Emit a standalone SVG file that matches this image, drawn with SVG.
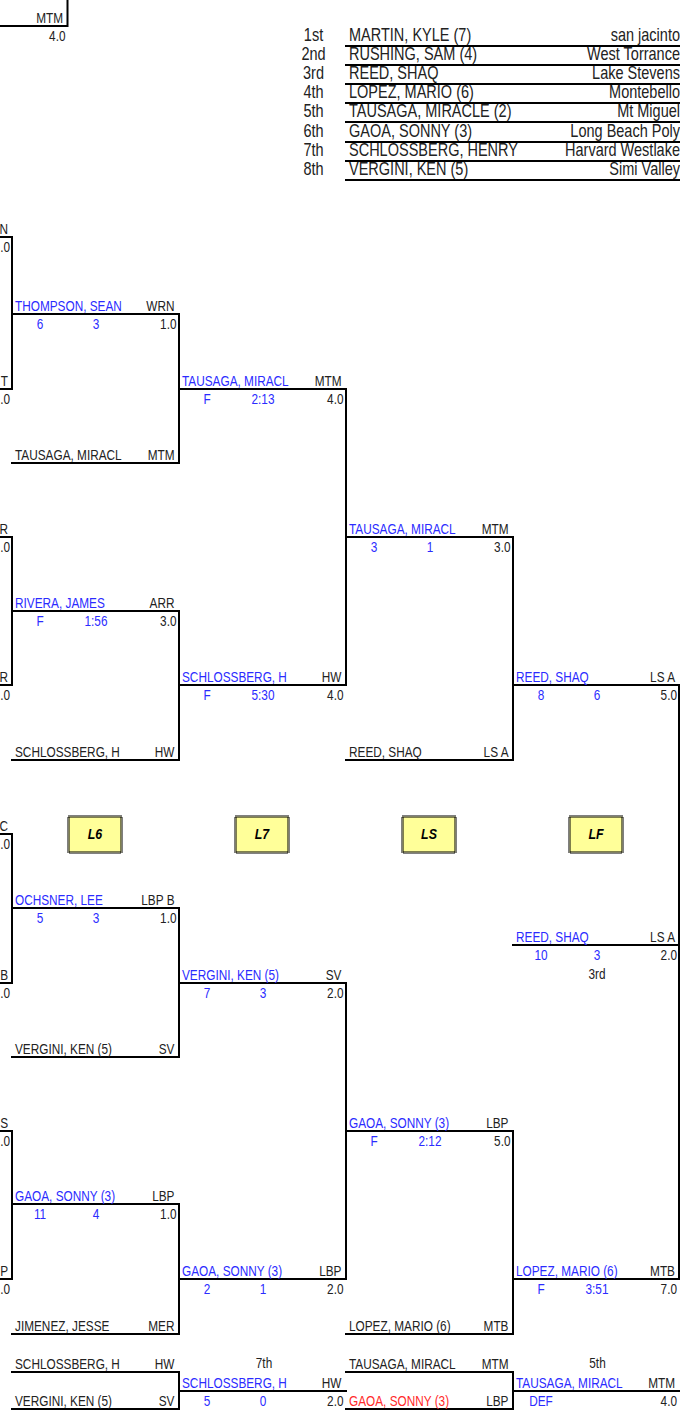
<svg xmlns="http://www.w3.org/2000/svg" width="680" height="1412" viewBox="0 0 680 1412">
<style>
text{font-family:"Liberation Sans",Arial,sans-serif;font-size:14.4px;fill:#222}
.b{fill:#2b2bff}
.r{fill:#ff2a2a}
.e{text-anchor:end}
.m{text-anchor:middle}
.p{font-size:17.7px}
.ln{stroke:#000;stroke-width:2;fill:none;stroke-linecap:square}
.bx{fill:#ffff99;stroke:#000;stroke-width:3;stroke-dasharray:1 1}
.bt{font-size:15.5px;font-style:italic;font-weight:bold;fill:#000;text-anchor:middle}
</style>
<rect width="680" height="1412" fill="#fff"/>

<g id="placings">
<path class="ln" d="M346 46H680M346 65H680M346 84H680M346 103H680M346 122H680M346 142H680M346 161H680M346 180H680"/>
<text class="p m" transform="translate(313.5 41) scale(.82 1)">1st</text>
<text class="p" transform="translate(349 41) scale(.82 1)">MARTIN, KYLE (7)</text>
<text class="p e" transform="translate(680 41) scale(.82 1)">san jacinto</text>
<text class="p m" transform="translate(313.5 60) scale(.82 1)">2nd</text>
<text class="p" transform="translate(349 60) scale(.82 1)">RUSHING, SAM (4)</text>
<text class="p e" transform="translate(680 60) scale(.82 1)">West Torrance</text>
<text class="p m" transform="translate(313.5 79) scale(.82 1)">3rd</text>
<text class="p" transform="translate(349 79) scale(.82 1)">REED, SHAQ</text>
<text class="p e" transform="translate(680 79) scale(.82 1)">Lake Stevens</text>
<text class="p m" transform="translate(313.5 98) scale(.82 1)">4th</text>
<text class="p" transform="translate(349 98) scale(.82 1)">LOPEZ, MARIO (6)</text>
<text class="p e" transform="translate(680 98) scale(.82 1)">Montebello</text>
<text class="p m" transform="translate(313.5 117) scale(.82 1)">5th</text>
<text class="p" transform="translate(349 117) scale(.82 1)">TAUSAGA, MIRACLE (2)</text>
<text class="p e" transform="translate(680 117) scale(.82 1)">Mt Miguel</text>
<text class="p m" transform="translate(313.5 137) scale(.82 1)">6th</text>
<text class="p" transform="translate(349 137) scale(.82 1)">GAOA, SONNY (3)</text>
<text class="p e" transform="translate(680 137) scale(.82 1)">Long Beach Poly</text>
<text class="p m" transform="translate(313.5 156) scale(.82 1)">7th</text>
<text class="p" transform="translate(349 156) scale(.82 1)">SCHLOSSBERG, HENRY</text>
<text class="p e" transform="translate(680 156) scale(.82 1)">Harvard Westlake</text>
<text class="p m" transform="translate(313.5 175) scale(.82 1)">8th</text>
<text class="p" transform="translate(349 175) scale(.82 1)">VERGINI, KEN (5)</text>
<text class="p e" transform="translate(680 175) scale(.82 1)">Simi Valley</text>
</g>

<g id="connectors">
<path class="ln" d="M67.5 0V26M12 237V389M12 537V685M12 834V983M12 1131V1279M179 314V463M179 611V760M179 908V1057M179 1204V1334M179 1372V1409M346 389V685M346 983V1279M513 537V760M513 1131V1334M513 1372V1409M679 685V1279"/>
</g>

<g id="top-partial">
<path class="ln" d="M0 26H67"/>
<text class="e" transform="translate(63 22.5) scale(.82 1)">MTM</text>
<text class="e" transform="translate(65.5 40.5) scale(.82 1)">4.0</text>
</g>

<g id="col0">
<path class="ln" d="M0 237H12M0 389H12M0 537H12M0 685H12M0 834H12M0 983H12M0 1131H12M0 1279H12"/>
<text class="e" transform="translate(8 234) scale(.82 1)">N</text>
<text class="e" transform="translate(10 252) scale(.82 1)">.0</text>
<text class="e" transform="translate(8 386) scale(.82 1)">T</text>
<text class="e" transform="translate(10 404) scale(.82 1)">.0</text>
<text class="e" transform="translate(8 534) scale(.82 1)">R</text>
<text class="e" transform="translate(10 552) scale(.82 1)">.0</text>
<text class="e" transform="translate(8 682) scale(.82 1)">R</text>
<text class="e" transform="translate(10 700) scale(.82 1)">.0</text>
<text class="e" transform="translate(8 831) scale(.82 1)">C</text>
<text class="e" transform="translate(10 849) scale(.82 1)">.0</text>
<text class="e" transform="translate(8 980) scale(.82 1)">B</text>
<text class="e" transform="translate(10 998) scale(.82 1)">.0</text>
<text class="e" transform="translate(8 1128) scale(.82 1)">S</text>
<text class="e" transform="translate(10 1146) scale(.82 1)">.0</text>
<text class="e" transform="translate(8 1276) scale(.82 1)">P</text>
<text class="e" transform="translate(10 1294) scale(.82 1)">.0</text>
</g>

<g id="c1-thompson">
<path class="ln" d="M12 314H179"/>
<text class="b" transform="translate(15 311) scale(.82 1)">THOMPSON, SEAN</text>
<text class="e" transform="translate(174.5 311) scale(.82 1)">WRN</text>
<text class="b m" transform="translate(40 329) scale(.82 1)">6</text>
<text class="b m" transform="translate(96 329) scale(.82 1)">3</text>
<text class="e" transform="translate(176.5 329) scale(.82 1)">1.0</text>
</g>
<g id="c1-tausaga">
<path class="ln" d="M12 463H179"/>
<text transform="translate(15 460) scale(.82 1)">TAUSAGA, MIRACL</text>
<text class="e" transform="translate(174.5 460) scale(.82 1)">MTM</text>
</g>
<g id="c1-rivera">
<path class="ln" d="M12 611H179"/>
<text class="b" transform="translate(15 608) scale(.82 1)">RIVERA, JAMES</text>
<text class="e" transform="translate(174.5 608) scale(.82 1)">ARR</text>
<text class="b m" transform="translate(40 626) scale(.82 1)">F</text>
<text class="b m" transform="translate(96 626) scale(.82 1)">1:56</text>
<text class="e" transform="translate(176.5 626) scale(.82 1)">3.0</text>
</g>
<g id="c1-schlossberg">
<path class="ln" d="M12 760H179"/>
<text transform="translate(15 757) scale(.82 1)">SCHLOSSBERG, H</text>
<text class="e" transform="translate(174.5 757) scale(.82 1)">HW</text>
</g>
<g id="c1-ochsner">
<path class="ln" d="M12 908H179"/>
<text class="b" transform="translate(15 905) scale(.82 1)">OCHSNER, LEE</text>
<text class="e" transform="translate(174.5 905) scale(.82 1)">LBP B</text>
<text class="b m" transform="translate(40 923) scale(.82 1)">5</text>
<text class="b m" transform="translate(96 923) scale(.82 1)">3</text>
<text class="e" transform="translate(176.5 923) scale(.82 1)">1.0</text>
</g>
<g id="c1-vergini">
<path class="ln" d="M12 1057H179"/>
<text transform="translate(15 1054) scale(.82 1)">VERGINI, KEN (5)</text>
<text class="e" transform="translate(174.5 1054) scale(.82 1)">SV</text>
</g>
<g id="c1-gaoa">
<path class="ln" d="M12 1204H179"/>
<text class="b" transform="translate(15 1201) scale(.82 1)">GAOA, SONNY (3)</text>
<text class="e" transform="translate(174.5 1201) scale(.82 1)">LBP</text>
<text class="b m" transform="translate(40 1219) scale(.82 1)">11</text>
<text class="b m" transform="translate(96 1219) scale(.82 1)">4</text>
<text class="e" transform="translate(176.5 1219) scale(.82 1)">1.0</text>
</g>
<g id="c1-jimenez">
<path class="ln" d="M12 1334H179"/>
<text transform="translate(15 1331) scale(.82 1)">JIMENEZ, JESSE</text>
<text class="e" transform="translate(174.5 1331) scale(.82 1)">MER</text>
</g>
<g id="m7-schlossberg">
<path class="ln" d="M12 1372H179"/>
<text transform="translate(15 1369) scale(.82 1)">SCHLOSSBERG, H</text>
<text class="e" transform="translate(174.5 1369) scale(.82 1)">HW</text>
</g>
<g id="m7-vergini">
<path class="ln" d="M12 1409H179"/>
<text transform="translate(15 1406) scale(.82 1)">VERGINI, KEN (5)</text>
<text class="e" transform="translate(174.5 1406) scale(.82 1)">SV</text>
</g>

<g id="c2-tausaga">
<path class="ln" d="M179 389H346"/>
<text class="b" transform="translate(182 386) scale(.82 1)">TAUSAGA, MIRACL</text>
<text class="e" transform="translate(341.5 386) scale(.82 1)">MTM</text>
<text class="b m" transform="translate(207 404) scale(.82 1)">F</text>
<text class="b m" transform="translate(263 404) scale(.82 1)">2:13</text>
<text class="e" transform="translate(343.5 404) scale(.82 1)">4.0</text>
</g>
<g id="c2-schlossberg">
<path class="ln" d="M179 685H346"/>
<text class="b" transform="translate(182 682) scale(.82 1)">SCHLOSSBERG, H</text>
<text class="e" transform="translate(341.5 682) scale(.82 1)">HW</text>
<text class="b m" transform="translate(207 700) scale(.82 1)">F</text>
<text class="b m" transform="translate(263 700) scale(.82 1)">5:30</text>
<text class="e" transform="translate(343.5 700) scale(.82 1)">4.0</text>
</g>
<g id="c2-vergini">
<path class="ln" d="M179 983H346"/>
<text class="b" transform="translate(182 980) scale(.82 1)">VERGINI, KEN (5)</text>
<text class="e" transform="translate(341.5 980) scale(.82 1)">SV</text>
<text class="b m" transform="translate(207 998) scale(.82 1)">7</text>
<text class="b m" transform="translate(263 998) scale(.82 1)">3</text>
<text class="e" transform="translate(343.5 998) scale(.82 1)">2.0</text>
</g>
<g id="c2-gaoa">
<path class="ln" d="M179 1279H346"/>
<text class="b" transform="translate(182 1276) scale(.82 1)">GAOA, SONNY (3)</text>
<text class="e" transform="translate(341.5 1276) scale(.82 1)">LBP</text>
<text class="b m" transform="translate(207 1294) scale(.82 1)">2</text>
<text class="b m" transform="translate(263 1294) scale(.82 1)">1</text>
<text class="e" transform="translate(343.5 1294) scale(.82 1)">2.0</text>
</g>
<g id="m7-result">
<path class="ln" d="M179 1391H346"/>
<text class="m" transform="translate(264 1368) scale(.82 1)">7th</text>
<text class="b" transform="translate(182 1388) scale(.82 1)">SCHLOSSBERG, H</text>
<text class="e" transform="translate(341.5 1388) scale(.82 1)">HW</text>
<text class="b m" transform="translate(207 1406) scale(.82 1)">5</text>
<text class="b m" transform="translate(263 1406) scale(.82 1)">0</text>
<text class="e" transform="translate(343.5 1406) scale(.82 1)">2.0</text>
</g>

<g id="c3-tausaga">
<path class="ln" d="M346 537H513"/>
<text class="b" transform="translate(349 534) scale(.82 1)">TAUSAGA, MIRACL</text>
<text class="e" transform="translate(508.5 534) scale(.82 1)">MTM</text>
<text class="b m" transform="translate(374 552) scale(.82 1)">3</text>
<text class="b m" transform="translate(430 552) scale(.82 1)">1</text>
<text class="e" transform="translate(510.5 552) scale(.82 1)">3.0</text>
</g>
<g id="c3-reed">
<path class="ln" d="M346 760H513"/>
<text transform="translate(349 757) scale(.82 1)">REED, SHAQ</text>
<text class="e" transform="translate(508.5 757) scale(.82 1)">LS A</text>
</g>
<g id="c3-gaoa">
<path class="ln" d="M346 1131H513"/>
<text class="b" transform="translate(349 1128) scale(.82 1)">GAOA, SONNY (3)</text>
<text class="e" transform="translate(508.5 1128) scale(.82 1)">LBP</text>
<text class="b m" transform="translate(374 1146) scale(.82 1)">F</text>
<text class="b m" transform="translate(430 1146) scale(.82 1)">2:12</text>
<text class="e" transform="translate(510.5 1146) scale(.82 1)">5.0</text>
</g>
<g id="c3-lopez">
<path class="ln" d="M346 1334H513"/>
<text transform="translate(349 1331) scale(.82 1)">LOPEZ, MARIO (6)</text>
<text class="e" transform="translate(508.5 1331) scale(.82 1)">MTB</text>
</g>
<g id="m5-tausaga">
<path class="ln" d="M346 1372H513"/>
<text transform="translate(349 1369) scale(.82 1)">TAUSAGA, MIRACL</text>
<text class="e" transform="translate(508.5 1369) scale(.82 1)">MTM</text>
</g>
<g id="m5-gaoa">
<path class="ln" d="M346 1409H513"/>
<text class="r" transform="translate(349 1406) scale(.82 1)">GAOA, SONNY (3)</text>
<text class="e" transform="translate(508.5 1406) scale(.82 1)">LBP</text>
</g>

<g id="c4-reed">
<path class="ln" d="M513 685H679"/>
<text class="b" transform="translate(516 682) scale(.82 1)">REED, SHAQ</text>
<text class="e" transform="translate(675 682) scale(.82 1)">LS A</text>
<text class="b m" transform="translate(541 700) scale(.82 1)">8</text>
<text class="b m" transform="translate(597 700) scale(.82 1)">6</text>
<text class="e" transform="translate(677 700) scale(.82 1)">5.0</text>
</g>
<g id="c4-lopez">
<path class="ln" d="M513 1279H679"/>
<text class="b" transform="translate(516 1276) scale(.82 1)">LOPEZ, MARIO (6)</text>
<text class="e" transform="translate(675 1276) scale(.82 1)">MTB</text>
<text class="b m" transform="translate(541 1294) scale(.82 1)">F</text>
<text class="b m" transform="translate(597 1294) scale(.82 1)">3:51</text>
<text class="e" transform="translate(677 1294) scale(.82 1)">7.0</text>
</g>
<g id="third">
<path class="ln" d="M513 945H679"/>
<text class="b" transform="translate(516 942) scale(.82 1)">REED, SHAQ</text>
<text class="e" transform="translate(675 942) scale(.82 1)">LS A</text>
<text class="b m" transform="translate(541 960) scale(.82 1)">10</text>
<text class="b m" transform="translate(597 960) scale(.82 1)">3</text>
<text class="e" transform="translate(677 960) scale(.82 1)">2.0</text>
<text class="m" transform="translate(597 979) scale(.82 1)">3rd</text>
</g>
<g id="m5-result">
<path class="ln" d="M513 1391H680"/>
<text class="m" transform="translate(597.5 1368) scale(.82 1)">5th</text>
<text class="b" transform="translate(516 1388) scale(.82 1)">TAUSAGA, MIRACL</text>
<text class="e" transform="translate(675 1388) scale(.82 1)">MTM</text>
<text class="b m" transform="translate(541 1406) scale(.82 1)">DEF</text>
<text class="e" transform="translate(677 1406) scale(.82 1)">4.0</text>
</g>

<g id="label-L6">
<rect class="bx" x="68.5" y="816.5" width="53" height="36"/>
<text class="bt" transform="translate(95 839) scale(.8 1)">L6</text>
</g>
<g id="label-L7">
<rect class="bx" x="235.5" y="816.5" width="53" height="36"/>
<text class="bt" transform="translate(262 839) scale(.8 1)">L7</text>
</g>
<g id="label-LS">
<rect class="bx" x="402.5" y="816.5" width="53" height="36"/>
<text class="bt" transform="translate(429 839) scale(.8 1)">LS</text>
</g>
<g id="label-LF">
<rect class="bx" x="569.5" y="816.5" width="53" height="36"/>
<text class="bt" transform="translate(596 839) scale(.8 1)">LF</text>
</g>
</svg>
